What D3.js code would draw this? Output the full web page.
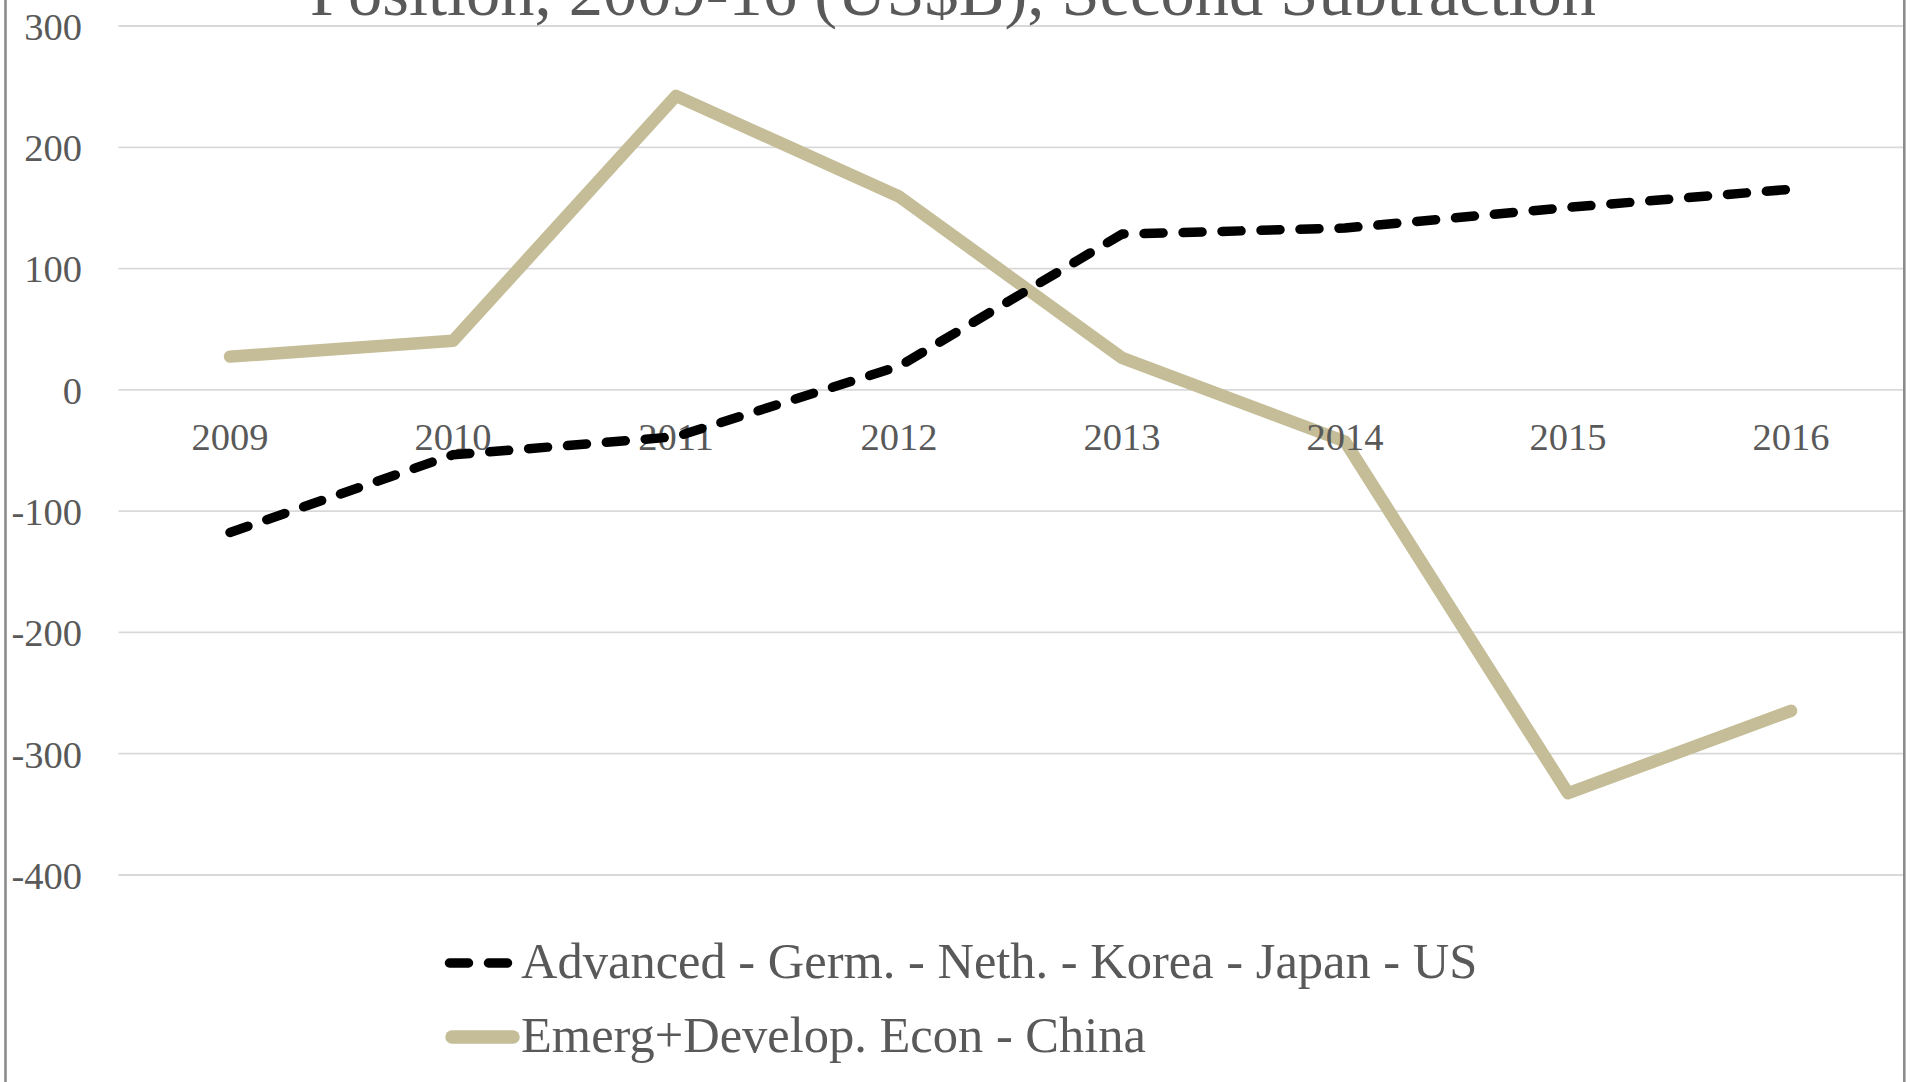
<!DOCTYPE html>
<html>
<head>
<meta charset="utf-8">
<script src="https://cdn.jsdelivr.net/npm/d3@7"></script>
<style>
  html, body { margin: 0; padding: 0; background: #fff; overflow: hidden; }
  svg { display: block; }
  text { font-family: "Liberation Serif", "Times New Roman", serif; fill: #595959; }
</style>
</head>
<body>
<svg id="chart" width="1911" height="1082"></svg>
<script>
// Net position differences by year, US$ billions
const years = ["2009", "2010", "2011", "2012", "2013", "2014", "2015", "2016"];
const advanced = [-118, -54, -39, 19, 128, 133, 150, 165];
const emerging = [27, 40, 242, 159, 26, -43, -333, -265];
const yTicks = [300, 200, 100, 0, -100, -200, -300, -400];
const seriesNames = [
  "Advanced - Germ. - Neth. - Korea - Japan - US",
  "Emerg+Develop. Econ - China"
];
const titleText = "Position, 2009-16 (US$B), Second Subtraction";

const W = 1911, H = 1082;
const plot = { left: 118.5, right: 1903, top: 25.5, bottom: 874.5 };

const svg = d3.select("#chart");

svg.append("rect").attr("width", W).attr("height", H).attr("fill", "#fff");

// chart frame (only the side edges fall inside the view)
svg.append("rect")
  .attr("x", 5.5).attr("y", -20)
  .attr("width", 1904.3 - 5.5).attr("height", H + 40)
  .attr("fill", "none").attr("stroke", "#8c8c8c").attr("stroke-width", 2.6);

const x = d3.scaleBand().domain(years).range([plot.left, plot.right - 0.5]).padding(0);
const xc = d => x(d) + x.bandwidth() / 2;
const y = d3.scaleLinear().domain([-400, 300]).range([plot.bottom, plot.top]);

// horizontal gridlines
const grid = svg.append("g")
  .attr("transform", `translate(${plot.left},0)`)
  .call(d3.axisLeft(y).tickValues(yTicks).tickSize(-(plot.right - plot.left)).tickFormat(""));
grid.select(".domain").remove();
grid.selectAll(".tick line").attr("stroke", "#d9d9d9").attr("stroke-width", 1.8);

// y axis labels
const yAxis = svg.append("g")
  .attr("transform", "translate(82,0)")
  .call(d3.axisLeft(y).tickValues(yTicks).tickSize(0).tickPadding(0).tickFormat(d => String(d)));
yAxis.select(".domain").remove();
yAxis.selectAll(".tick text")
  .attr("dy", "0.36em")
  .style("font-size", "38.5px")
  .style("font-family", "'Liberation Serif', serif")
  .attr("fill", "#595959");

const line = d3.line().x((d, i) => xc(years[i])).y(d => y(d));

// emerging economies series
svg.append("path")
  .datum(emerging)
  .attr("d", line)
  .attr("fill", "none")
  .attr("stroke", "#c4bd97")
  .attr("stroke-width", 12.5)
  .attr("stroke-linejoin", "round")
  .attr("stroke-linecap", "round");

// category labels sit just below the zero line
const xAxis = svg.append("g")
  .attr("transform", `translate(0,${y(0)})`)
  .call(d3.axisBottom(x).tickSize(0).tickPadding(0));
xAxis.select(".domain").remove();
xAxis.selectAll(".tick text")
  .attr("y", 450.5 - y(0))
  .attr("dy", 0)
  .style("font-size", "38.5px")
  .style("font-family", "'Liberation Serif', serif")
  .attr("fill", "#595959");

// advanced economies series
svg.append("path")
  .datum(advanced)
  .attr("d", line)
  .attr("fill", "none")
  .attr("stroke", "#000")
  .attr("stroke-width", 9.5)
  .attr("stroke-dasharray", "19 20")
  .attr("stroke-linejoin", "round")
  .attr("stroke-linecap", "round");

// title, partly above the visible area
svg.append("text")
  .attr("x", 953).attr("y", 14.5)
  .attr("text-anchor", "middle")
  .style("font-size", "68.5px")
  .text(titleText);

// legend
const legend = svg.append("g");
const rows = [
  { name: seriesNames[0], cy: 963, stroke: "#000", width: 9.5, dash: "19 20", x0: 449.5, x1: 509.5 },
  { name: seriesNames[1], cy: 1037, stroke: "#c4bd97", width: 13.5, dash: null, x0: 452, x1: 513 }
];
rows.forEach(r => {
  legend.append("line")
    .attr("x1", r.x0).attr("x2", r.x1)
    .attr("y1", r.cy).attr("y2", r.cy)
    .attr("stroke", r.stroke)
    .attr("stroke-width", r.width)
    .attr("stroke-linecap", "round")
    .attr("stroke-dasharray", r.dash);
  legend.append("text")
    .attr("x", 521).attr("y", r.cy)
    .attr("dy", "0.3em")
    .style("font-size", "50.5px")
    .text(r.name);
});
</script>
</body>
</html>
